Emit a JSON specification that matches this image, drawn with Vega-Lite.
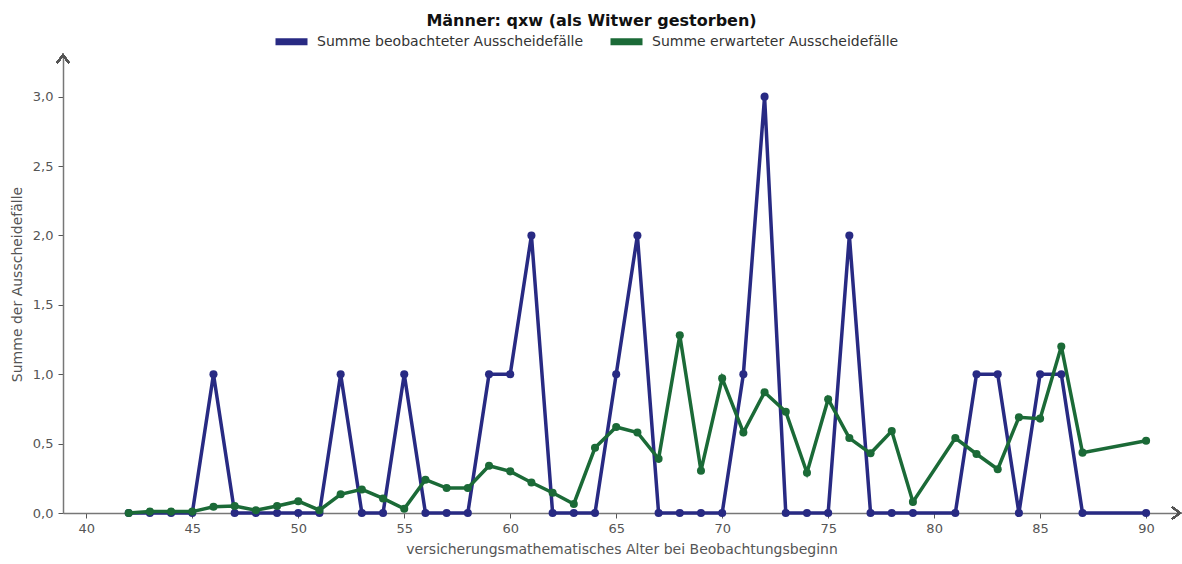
{
  "$schema": "https://vega.github.io/schema/vega-lite/v6.json",
  "autosize": "none",
  "width": 1117,
  "height": 458,
  "padding": {"left": 63, "top": 55, "right": 2, "bottom": 51},
  "background": "white",
  "title": {
    "text": "Männer: qxw (als Witwer gestorben)",
    "font": "DejaVu Sans",
    "fontSize": 16,
    "fontWeight": "bold",
    "color": "#111111",
    "anchor": "middle",
    "dx": -30,
    "offset": -7
  },
  "data": {
    "values": [
      {"age": 42, "beob": 0, "erw": 0.0},
      {"age": 43, "beob": 0, "erw": 0.01},
      {"age": 44, "beob": 0, "erw": 0.01},
      {"age": 45, "beob": 0, "erw": 0.01},
      {"age": 46, "beob": 1, "erw": 0.045},
      {"age": 47, "beob": 0, "erw": 0.05},
      {"age": 48, "beob": 0, "erw": 0.02},
      {"age": 49, "beob": 0, "erw": 0.05},
      {"age": 50, "beob": 0, "erw": 0.085},
      {"age": 51, "beob": 0, "erw": 0.02},
      {"age": 52, "beob": 1, "erw": 0.135},
      {"age": 53, "beob": 0, "erw": 0.17},
      {"age": 54, "beob": 0, "erw": 0.105},
      {"age": 55, "beob": 1, "erw": 0.03},
      {"age": 56, "beob": 0, "erw": 0.24},
      {"age": 57, "beob": 0, "erw": 0.18},
      {"age": 58, "beob": 0, "erw": 0.18},
      {"age": 59, "beob": 1, "erw": 0.34},
      {"age": 60, "beob": 1, "erw": 0.30},
      {"age": 61, "beob": 2, "erw": 0.22},
      {"age": 62, "beob": 0, "erw": 0.146},
      {"age": 63, "beob": 0, "erw": 0.065},
      {"age": 64, "beob": 0, "erw": 0.47},
      {"age": 65, "beob": 1, "erw": 0.62},
      {"age": 66, "beob": 2, "erw": 0.58},
      {"age": 67, "beob": 0, "erw": 0.39},
      {"age": 68, "beob": 0, "erw": 1.28},
      {"age": 69, "beob": 0, "erw": 0.305},
      {"age": 70, "beob": 0, "erw": 0.97},
      {"age": 71, "beob": 1, "erw": 0.58},
      {"age": 72, "beob": 3, "erw": 0.87},
      {"age": 73, "beob": 0, "erw": 0.73},
      {"age": 74, "beob": 0, "erw": 0.29},
      {"age": 75, "beob": 0, "erw": 0.82},
      {"age": 76, "beob": 2, "erw": 0.54},
      {"age": 77, "beob": 0, "erw": 0.43},
      {"age": 78, "beob": 0, "erw": 0.59},
      {"age": 79, "beob": 0, "erw": 0.08},
      {"age": 81, "beob": 0, "erw": 0.54},
      {"age": 82, "beob": 1, "erw": 0.425},
      {"age": 83, "beob": 1, "erw": 0.315},
      {"age": 84, "beob": 0, "erw": 0.69},
      {"age": 85, "beob": 1, "erw": 0.68},
      {"age": 86, "beob": 1, "erw": 1.20},
      {"age": 87, "beob": 0, "erw": 0.435},
      {"age": 90, "beob": 0, "erw": 0.52}
    ]
  },
  "encoding": {
    "x": {
      "field": "age",
      "type": "quantitative",
      "scale": {"domain": [38.9, 91.6], "nice": false, "zero": false},
      "axis": {
        "title": "versicherungsmathematisches Alter bei Beobachtungsbeginn",
        "values": [40, 45, 50, 55, 60, 65, 70, 75, 80, 85, 90],
        "grid": false,
        "domainColor": "#777777",
        "domainWidth": 1.5,
        "tickColor": "#555555",
        "tickSize": 5,
        "labelFont": "DejaVu Sans",
        "labelFontSize": 13,
        "labelColor": "#555555",
        "labelPadding": 4,
        "titleFont": "DejaVu Sans",
        "titleFontSize": 14,
        "titleFontWeight": "normal",
        "titleColor": "#555555",
        "titlePadding": 7
      }
    }
  },
  "layer": [
    {
      "mark": {"type": "line", "strokeWidth": 3.5, "point": {"filled": true, "size": 65}},
      "encoding": {
        "y": {
          "field": "beob",
          "type": "quantitative",
          "scale": {"domain": [0, 3.3], "nice": false},
          "axis": {
            "title": "Summe der Ausscheidefälle",
            "values": [0, 0.5, 1, 1.5, 2, 2.5, 3],
            "labelExpr": "replace(format(datum.value, '.1f'), '.', ',')",
            "grid": false,
            "domainColor": "#777777",
            "domainWidth": 1.5,
            "tickColor": "#555555",
            "tickSize": 5,
            "labelFont": "DejaVu Sans",
            "labelFontSize": 13,
            "labelColor": "#555555",
            "labelPadding": 5,
            "titleFont": "DejaVu Sans",
            "titleFontSize": 14,
            "titleFontWeight": "normal",
            "titleColor": "#555555",
            "titlePadding": 8
          }
        },
        "color": {
          "datum": "Summe beobachteter Ausscheidefälle",
          "scale": {
            "domain": ["Summe beobachteter Ausscheidefälle", "Summe erwarteter Ausscheidefälle"],
            "range": ["#282a83", "#1b6a37"]
          },
          "legend": {
            "title": null,
            "orient": "none",
            "legendX": 209,
            "legendY": -33,
            "direction": "horizontal",
            "symbolType": "M-1,0L1,0",
            "symbolSize": 1024,
            "symbolStrokeWidth": 7,
            "labelFont": "DejaVu Sans",
            "labelFontSize": 14,
            "labelLimit": 500,
            "labelColor": "#333333",
            "labelOffset": 6,
            "columnPadding": 12
          }
        }
      }
    },
    {
      "mark": {"type": "line", "strokeWidth": 3.5, "point": {"filled": true, "size": 65}},
      "encoding": {
        "y": {"field": "erw", "type": "quantitative"},
        "color": {"datum": "Summe erwarteter Ausscheidefälle"}
      }
    },
    {
      "mark": {"type": "point", "shape": "M-1,-0.75L0,0L-1,0.75", "filled": false, "stroke": "#555555", "strokeWidth": 1.5, "size": 256, "opacity": 1},
      "encoding": {
        "x": {"datum": 91.6},
        "y": {"datum": 0}
      }
    },
    {
      "mark": {"type": "point", "shape": "M-0.75,1L0,0L0.75,1", "filled": false, "stroke": "#555555", "strokeWidth": 1.5, "size": 256, "opacity": 1},
      "encoding": {
        "x": {"datum": 38.9},
        "y": {"datum": 3.3}
      }
    }
  ],
  "config": {
    "view": {"stroke": null}
  }
}
